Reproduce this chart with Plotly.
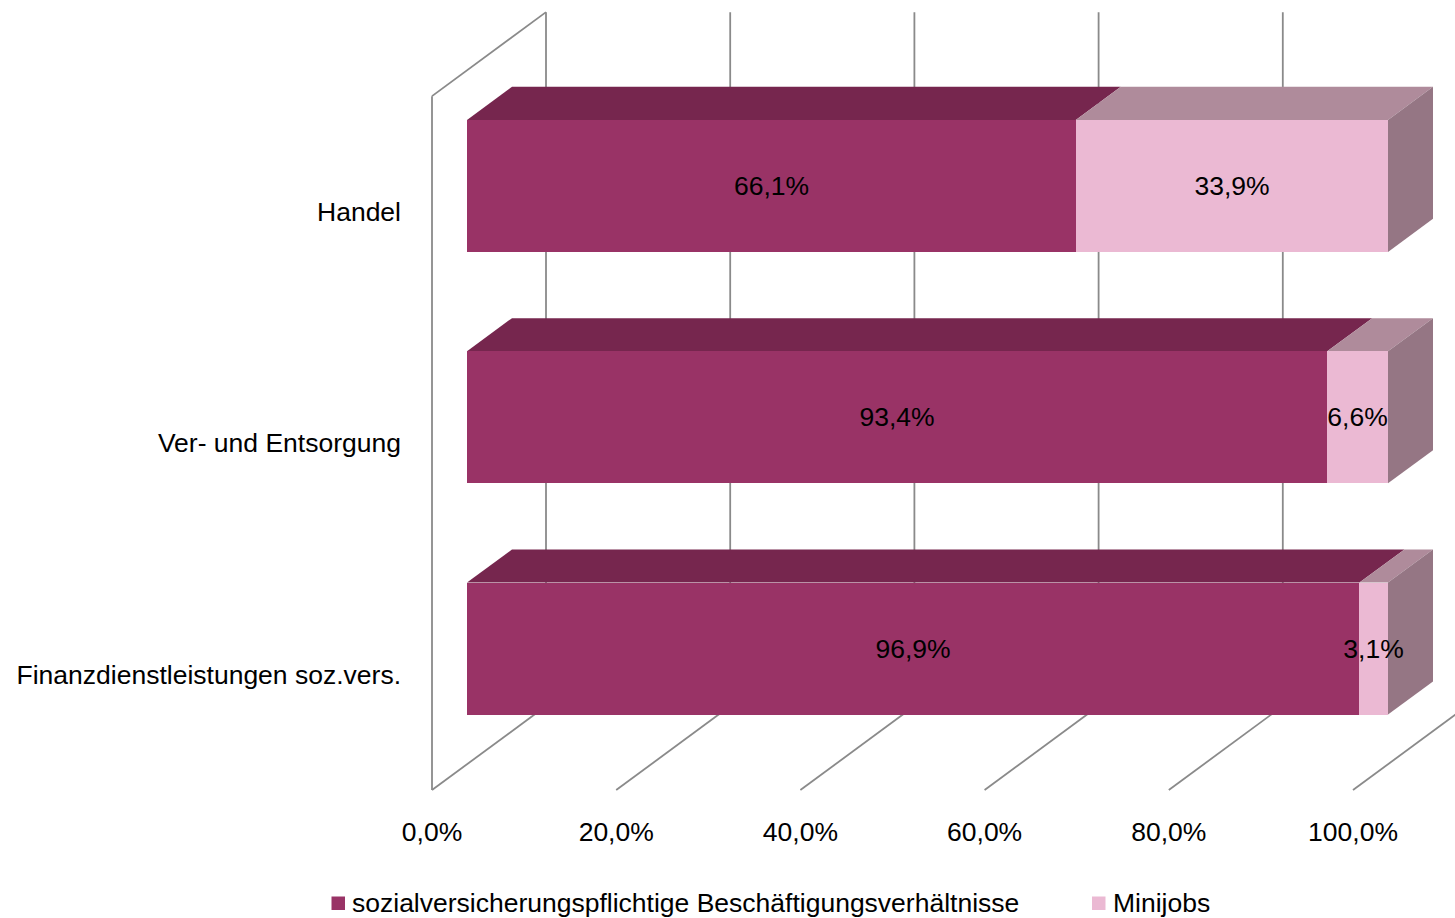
import plotly.graph_objects as go

# ---- data -------------------------------------------------------------
categories = ["Handel", "Ver- und Entsorgung", "Finanzdienstleistungen soz.vers."]
series_names = ["sozialversicherungspflichtige Beschäftigungsverhältnisse", "Minijobs"]
sv_values = [66.1, 93.4, 96.9]
mj_values = [33.9, 6.6, 3.1]
tick_values = [0, 20, 40, 60, 80, 100]
tick_labels = ["0,0%", "20,0%", "40,0%", "60,0%", "80,0%", "100,0%"]

series_values = [sv_values, mj_values]

# ---- styling ----------------------------------------------------------
FRONT = ["#993366", "#EBB9D3"]
TOP = ["#76264E", "#AF8B9B"]
SIDE = ["#5E1E3F", "#957684"]
GRID = "#8A8A8A"
FONT = "Liberation Sans, Arial, sans-serif"
FS = 26.5

W, H = 1455, 918

# ---- pseudo-3D geometry -------------------------------------------------
PX_PCT = 9.21          # pixels per percentage point
PX_CAT = 231.3         # pixels per category step
X0_PX = 467.0          # pixel column of 0 % on the bar front plane
Y0_PX = 648.6          # pixel row of the lowest category centre
DEPTH_DX, DEPTH_DY = 114.0, 84.0   # box depth offset in pixels (right, up)
F0, F1 = 35.0 / 114.0, 80.0 / 114.0  # bar front / back depth as box fraction
BAR_W = 132.0 / PX_CAT

DXU = DEPTH_DX / PX_PCT
DYU = DEPTH_DY / PX_CAT

n = len(categories)
ypos = [n - 1 - i for i in range(n)]
V_LO, V_HI = -0.5, n - 0.5


def proj(p, v, d):
    """Map (percent, category, depth) into the axis coordinates of the bar plane."""
    return p + (d - F0) * DXU, v + (d - F0) * DYU


def path(points):
    return "M " + " L ".join(f"{x:.4f},{y:.4f}" for x, y in points) + " Z"


shapes = []


def line(a, b):
    shapes.append(dict(type="line", xref="x", yref="y", layer="below",
                       x0=a[0], y0=a[1], x1=b[0], y1=b[1],
                       line=dict(color=GRID, width=1.8)))


# side wall edges
line(proj(0, V_LO, 0), proj(0, V_HI, 0))
line(proj(0, V_HI, 0), proj(0, V_HI, 1))
# back wall gridlines and floor lines
for t in tick_values:
    line(proj(t, V_LO, 1), proj(t, V_HI, 1))
    line(proj(t, V_LO, 0), proj(t, V_LO, 1))

# top and side faces of the stacked bars
for i, v in enumerate(ypos):
    vt, vb = v + BAR_W / 2, v - BAR_W / 2
    start = 0.0
    last = None
    for s, vals in enumerate(series_values):
        x0, x1 = start, start + vals[i]
        shapes.append(dict(type="path", xref="x", yref="y", layer="below",
                           path=path([proj(x0, vt, F0), proj(x1, vt, F0),
                                      proj(x1, vt, F1), proj(x0, vt, F1)]),
                           fillcolor=TOP[s], line=dict(width=0)))
        start = x1
        last = s
    shapes.append(dict(type="path", xref="x", yref="y", layer="below",
                       path=path([proj(start, vb, F0), proj(start, vt, F0),
                                  proj(start, vt, F1), proj(start, vb, F1)]),
                       fillcolor=SIDE[last], line=dict(width=0)))

fig = go.Figure()
for s, vals in enumerate(series_values):
    fig.add_trace(go.Bar(
        name=series_names[s], orientation="h", x=vals, y=ypos, width=BAR_W,
        marker=dict(color=FRONT[s], line=dict(width=0)),
        texttemplate="%{x:.1f}%", textposition="inside", textangle=0,
        insidetextanchor="middle", constraintext="none",
        insidetextfont=dict(color="#000000", size=FS, family=FONT),
        showlegend=False, hoverinfo="skip",
    ))

# legend drawn as squares + labels
legend_items = [(331.5, 350.0), (1092.0, 1111.0)]
annotations = []
for s, (sq_x, tx_x) in enumerate(legend_items):
    shapes.append(dict(type="rect", xref="paper", yref="paper",
                       x0=sq_x / W, x1=(sq_x + 13.5) / W,
                       y0=1 - 910 / H, y1=1 - 896.5 / H,
                       fillcolor=FRONT[s], line=dict(width=0)))
    annotations.append(dict(xref="paper", yref="paper", x=tx_x / W, y=1 - 903 / H,
                            xanchor="left", yanchor="middle", showarrow=False,
                            text=series_names[s],
                            font=dict(family=FONT, size=FS, color="#000000")))

fig.update_layout(
    width=W, height=H, autosize=False,
    margin=dict(l=0, r=0, t=0, b=0, pad=0),
    paper_bgcolor="white", plot_bgcolor="rgba(0,0,0,0)",
    barmode="stack", bargap=0, separators=",.",
    font=dict(family=FONT, size=FS, color="#000000"),
    showlegend=False,
    shapes=shapes, annotations=annotations,
    xaxis=dict(range=[-X0_PX / PX_PCT, (W - X0_PX) / PX_PCT],
               showgrid=False, zeroline=False, showline=False, ticks="",
               tickvals=[t - F0 * DXU for t in tick_values], ticktext=tick_labels,
               anchor="free", position=1 - 813 / H,
               tickfont=dict(family=FONT, size=FS, color="#000000")),
    yaxis=dict(range=[(Y0_PX - H) / PX_CAT, Y0_PX / PX_CAT],
               showgrid=False, zeroline=False, showline=False, ticks="",
               tickvals=[v - F0 * DYU for v in ypos], ticktext=categories,
               anchor="free", position=401 / W,
               tickfont=dict(family=FONT, size=FS, color="#000000")),
)

fig.write_html("out.html")
